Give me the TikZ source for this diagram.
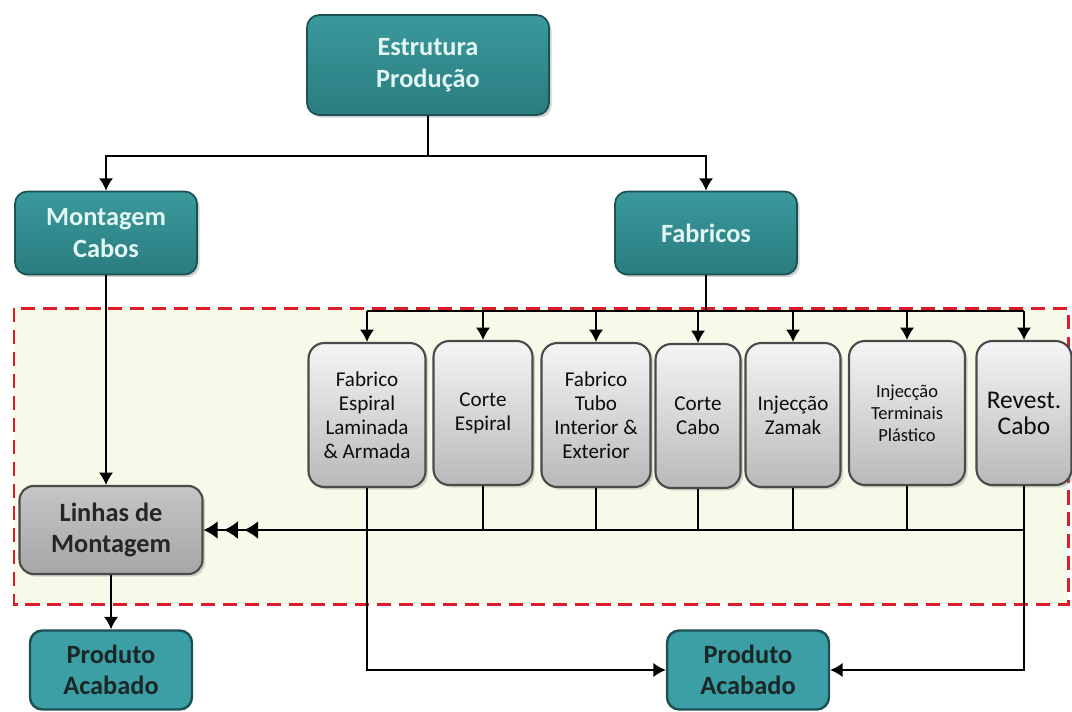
\documentclass[tikz,border=0pt]{standalone}
\usepackage{fontspec}
\setmainfont{Carlito}
\usepackage{xcolor}
\usetikzlibrary{shapes,arrows.meta,positioning,calc,shadows}

\definecolor{tealbox}{HTML}{2A7C80}
\definecolor{tealtop}{HTML}{3A999B}
\definecolor{tealline}{HTML}{1D5254}
\definecolor{tealtext}{HTML}{E2F6F3}
\definecolor{endbox}{HTML}{3C9FA6}
\definecolor{endtext}{HTML}{192727}
\definecolor{zonefill}{HTML}{F5FBE8}
\definecolor{zonered}{HTML}{DD1C2A}
\definecolor{greyline}{HTML}{4A4A4A}

\begin{document}
\begin{tikzpicture}[x=0.02cm, y=-0.02cm,
        head/.style={rectangle, rounded corners=7pt, draw=tealline, line width=1pt,
                     top color=tealtop, bottom color=tealbox, text=tealtext, align=center,
                     font=\fontsize{15}{18.5}\selectfont\bfseries,
                     drop shadow={opacity=0.35, shadow xshift=1.5pt, shadow yshift=-1.5pt}},
        proc/.style={rectangle, rounded corners=9pt, draw=greyline, line width=1.2pt,
                     top color=white!92!gray, bottom color=gray!55, text=black!95,
                     align=center, minimum height=2.88cm, inner sep=1pt,
                     font=\fontsize{12}{13.6}\selectfont,
                     drop shadow={opacity=0.3, shadow xshift=1.5pt, shadow yshift=-1.5pt}},
        lines/.style={rectangle, rounded corners=8pt, draw=greyline, line width=1.2pt,
                      top color=gray!45!white, bottom color=gray!70!white, text=black!85,
                      align=center, minimum width=3.66cm, minimum height=1.76cm,
                      font=\fontsize{15}{18}\selectfont\bfseries,
                      drop shadow={opacity=0.3, shadow xshift=1.5pt, shadow yshift=-1.5pt}},
        final/.style={rectangle, rounded corners=7pt, draw=tealline, line width=1.4pt,
                      fill=endbox, text=endtext, align=center,
                      minimum width=3.24cm, minimum height=1.58cm,
                      font=\fontsize{15}{18}\selectfont\bfseries},
        flow/.style={-{Latex[length=7pt,width=8pt]}, line width=0.9pt},
        wire/.style={line width=0.9pt},
        triple/.style={-{Latex[length=8pt,width=10pt,sep=3.5pt]Latex[length=8pt,width=10pt,sep=3.5pt]Latex[length=8pt,width=10pt]},
                       line width=0.9pt}
    ]
        \useasboundingbox (0,0) rectangle (1072,711);

        % Zone
        \draw[zonered, fill=zonefill, line width=1.7pt, dash pattern=on 8pt off 4.5pt]
            (14,308) rectangle (1068,604);

        % Top levels
        \node[head, minimum width=4.84cm, minimum height=2cm] (estr) at (428,65) {Estrutura\\Produção};
        \node[head, minimum width=3.64cm, minimum height=1.66cm] (mont) at (106,233) {Montagem\\Cabos};
        \node[head, minimum width=3.64cm, minimum height=1.66cm] (fab) at (706,233) {Fabricos};

        % Processes
        \node[proc, minimum width=2.34cm] (p1) at (367,415) {Fabrico\\Espiral\\Laminada\\\& Armada};
        \node[proc, minimum width=1.98cm] (p2) at (483,413) {Corte\\Espiral};
        \node[proc, minimum width=2.18cm] (p3) at (596,415) {Fabrico\\Tubo\\Interior \&\\Exterior};
        \node[proc, minimum width=1.70cm] (p4) at (698,416) {Corte\\Cabo};
        \node[proc, minimum width=1.90cm] (p5) at (793,415) {Injecção\\Zamak};
        \node[proc, minimum width=2.32cm, font=\fontsize{10.5}{12.5}\selectfont] (p6) at (907,413) {Injecção\\Terminais\\Plástico};
        \node[proc, minimum width=1.90cm, font=\fontsize{14.5}{14.8}\selectfont] (p7) at (1024,413) {Revest.\\Cabo};

        \node[lines] (linhas) at (111,530) {Linhas de\\Montagem};

        % Outputs
        \node[final] (prod1) at (111,670) {Produto\\Acabado};
        \node[final] (prod2) at (748,670) {Produto\\Acabado};

        \coordinate (busT) at (706,311);
        \coordinate (busB) at (706,530);

        % Upper connectors
        \draw[flow] (estr.south) -- ++(0,40) -| (mont.north);
        \draw[flow] (estr.south) -- ++(0,40) -| (fab.north);
        \draw[wire] (fab.south) -- (busT);
        \draw[wire] (busT -| p1) -- (busT -| p7);
        \foreach \p in {p1,p2,p3,p4,p5,p6,p7}
            \draw[flow] (busT -| \p) -- (\p.north);

        % Lower connectors
        \foreach \p in {p2,p3,p4,p5,p6}
            \draw[wire] (\p.south) -- (\p.south |- busB);
        \draw[triple] (busB -| p7) -- (linhas.east);
        \draw[flow] (p7.south) |- (prod2.east);
        \draw[flow] (p1.south) |- (prod2.west);
        \draw[flow] (mont.south) -- (linhas.north -| mont.south);
        \draw[flow] (linhas.south) -- (prod1.north);
    \end{tikzpicture}
\end{document}
